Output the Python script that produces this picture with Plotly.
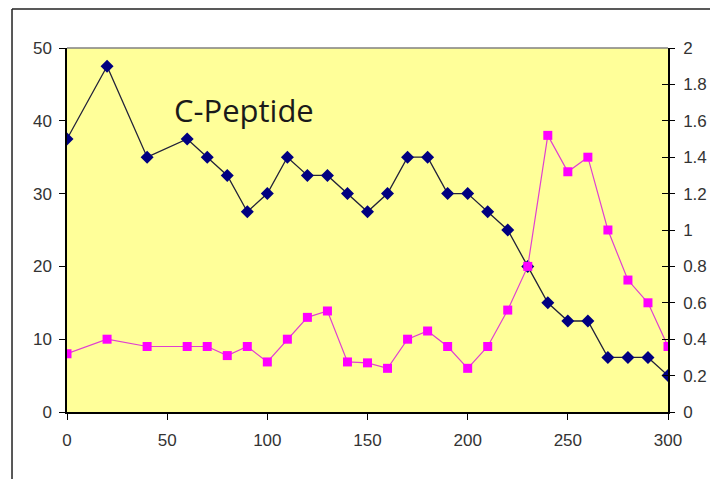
import plotly.graph_objects as go

time_min = [0, 20, 40, 60, 70, 80, 90, 100, 110, 120, 130, 140, 150, 160, 170,
            180, 190, 200, 210, 220, 230, 240, 250, 260, 270, 280, 290, 300]
series_left = [37.5, 47.5, 35, 37.5, 35, 32.5, 27.5, 30, 35, 32.5, 32.5, 30, 27.5, 30, 35,
               35, 30, 30, 27.5, 25, 20, 15, 12.5, 12.5, 7.5, 7.5, 7.5, 5]
series_right = [0.32, 0.40, 0.36, 0.36, 0.36, 0.31, 0.36, 0.275, 0.40, 0.52, 0.555, 0.275, 0.27, 0.24, 0.40,
                0.445, 0.36, 0.24, 0.36, 0.56, 0.80, 1.52, 1.32, 1.40, 1.00, 0.725, 0.60, 0.36]
x_ticks = [0, 50, 100, 150, 200, 250, 300]
left_ticks = [0, 10, 20, 30, 40, 50]
right_ticks = [0, 0.2, 0.4, 0.6, 0.8, 1, 1.2, 1.4, 1.6, 1.8, 2]
title_text = "C-Peptide"

fig = go.Figure()
fig.add_trace(go.Scatter(
    x=time_min, y=series_right, yaxis="y2", mode="lines+markers",
    line=dict(color="#e040d0", width=1.2),
    marker=dict(symbol="square", size=9, color="#ff00ff"),
    showlegend=False))
fig.add_trace(go.Scatter(
    x=time_min, y=series_left, mode="lines+markers",
    line=dict(color="#22223a", width=1.3),
    marker=dict(symbol="diamond", size=10, color="#000080"),
    showlegend=False))

tickfont = dict(family="Arial, Liberation Sans", size=17, color="#333333")
fig.update_layout(
    width=710, height=471,
    margin=dict(l=59, r=50, t=40, b=67),
    paper_bgcolor="white", plot_bgcolor="#ffff99",
    xaxis=dict(range=[0, 300], tickvals=x_ticks, showgrid=False, zeroline=False,
               showline=True, linecolor="black", linewidth=1.5,
               ticks="outside", ticklen=6, tickcolor="black", tickfont=tickfont,
               ticklabelstandoff=6, mirror=False),
    yaxis=dict(range=[0, 50], tickvals=left_ticks, showgrid=False, zeroline=False,
               showline=True, linecolor="black", linewidth=1.5,
               ticks="outside", ticklen=6, tickcolor="black", tickfont=tickfont,
               ticklabelstandoff=4),
    yaxis2=dict(range=[0, 2], tickvals=right_ticks, overlaying="y", side="right",
                showgrid=False, zeroline=False, showline=True, linecolor="black",
                linewidth=1.5, ticks="outside", ticklen=5, tickcolor="black",
                tickfont=tickfont, ticklabelstandoff=5),
    yaxis3=dict(range=[0, 2], tickvals=right_ticks, overlaying="y", side="right",
                showgrid=False, zeroline=False, showline=False, showticklabels=False,
                ticks="inside", ticklen=6, tickcolor="black"),
    annotations=[dict(text=title_text, x=0.175, y=0.83, xref="paper", yref="paper",
                      xanchor="left", yanchor="middle", showarrow=False,
                      font=dict(family="Open Sans, Lato", size=31, color="#1a1a1a"))],
    shapes=[
        dict(type="line", xref="paper", yref="paper", x0=0, x1=1, y0=1, y1=1,
             line=dict(color="#808080", width=1.5)),
        dict(type="line", xref="paper", yref="paper", x0=-0.0915, x1=-0.0915, y0=-0.3, y1=1.107,
             line=dict(color="#222222", width=1.5)),
        dict(type="line", xref="paper", yref="paper", x0=-0.0915, x1=1.2, y0=1.107, y1=1.107,
             line=dict(color="#222222", width=1.5)),
    ],
)
# invisible dummy trace to activate yaxis3
fig.add_trace(go.Scatter(x=[0], y=[0], yaxis="y3", mode="markers",
                         marker=dict(opacity=0), showlegend=False, hoverinfo="skip"))
fig.write_html("out.html")
